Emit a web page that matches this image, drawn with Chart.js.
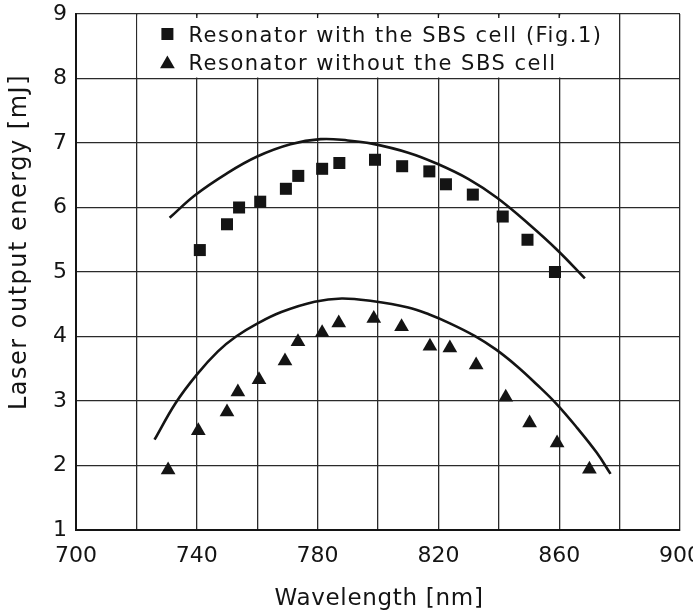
<!DOCTYPE html>
<html>
<head>
<meta charset="utf-8">
<script src="https://cdn.jsdelivr.net/npm/chart.js@4.4.1/dist/chart.umd.min.js"></script>
<style>
  html, body { margin: 0; padding: 0; background: #fff; overflow: hidden; }
</style>
</head>
<body>
<canvas id="chart" width="702" height="610"></canvas>
<script>
/* Laser output energy vs wavelength, two resonator set-ups */

// measured points, resonator with the SBS cell (squares)
const withSbsX = [741, 750, 754, 761, 769.5, 773.6, 781.5, 787.2, 799, 808, 817, 822.5, 831.4, 841.3, 849.5, 858.6];
const withSbsY = [5.34, 5.74, 6.0, 6.09, 6.29, 6.49, 6.6, 6.69, 6.74, 6.64, 6.56, 6.36, 6.2, 5.86, 5.5, 5.0];

// measured points, resonator without the SBS cell (triangles)
const noSbsX = [730.5, 740.5, 750, 753.6, 760.6, 769.2, 773.5, 781.5, 787, 798.6, 807.8, 817.2, 823.8, 832.5, 842.3, 850.2, 859.3, 870];
const noSbsY = [1.93, 2.54, 2.83, 3.14, 3.33, 3.62, 3.92, 4.06, 4.21, 4.28, 4.15, 3.85, 3.82, 3.56, 3.06, 2.66, 2.35, 1.94];

// hand-drawn guide curves
const upperCurveX = [731, 739.4, 750, 760, 771, 781, 790, 798, 810, 819, 830, 839.4, 850, 859.6, 868.5];
const upperCurveY = [5.84, 6.19, 6.53, 6.79, 6.98, 7.06, 7.04, 6.99, 6.85, 6.69, 6.44, 6.15, 5.74, 5.33, 4.9];
const lowerCurveX = [726, 733, 740, 747, 753, 760, 768, 779, 788, 798, 810, 817, 824, 832, 839, 846, 852.5, 859, 866, 872.4, 877];
const lowerCurveY = [2.4, 2.97, 3.41, 3.77, 4.0, 4.2, 4.38, 4.54, 4.59, 4.55, 4.45, 4.34, 4.2, 4.01, 3.8, 3.54, 3.26, 2.96, 2.58, 2.2, 1.87];

// axes
const xMin = 700, xMax = 900, xStep = 20, xLabelEvery = 40;
const yMin = 1, yMax = 9, yStep = 1;

const legendLabels = ['Resonator with the SBS cell (Fig.1)', 'Resonator without the SBS cell'];
const xTitle = 'Wavelength [nm]';
const yTitle = 'Laser output energy [mJ]';

const INK = '#141414';
const FONT = '"DejaVu Sans", sans-serif';

const toXY = (xs, ys) => xs.map((x, i) => ({ x, y: ys[i] }));

/* ---- Plugin: boxed legend inside the top grid row ---- */
const boxedLegend = {
  id: 'boxedLegend',
  beforeDatasetsDraw(chart) {
    const { ctx, chartArea, scales } = chart;
    const x1 = scales.x.getPixelForValue(720);
    const x2 = scales.x.getPixelForValue(880);
    const y1 = chartArea.top;
    const y2 = scales.y.getPixelForValue(8);
    ctx.save();
    ctx.fillStyle = '#fff';
    ctx.fillRect(x1 + 1, y1 + 1.5, x2 - x1 - 2, y2 - y1 - 2.5);

    // little stubs of the covered grid lines along the top edge
    ctx.strokeStyle = INK;
    ctx.lineWidth = 1.3;
    for (let v = 740; v < 880; v += xStep) {
      const px = scales.x.getPixelForValue(v);
      ctx.beginPath();
      ctx.moveTo(px, y1);
      ctx.lineTo(px, y1 + 4);
      ctx.stroke();
    }

    const mx = x1 + 31;
    ctx.fillStyle = INK;
    // square
    ctx.fillRect(mx - 6, y1 + 20 - 6, 12, 12);
    // triangle
    const r = 8.5, cy = y1 + 50;
    ctx.beginPath();
    ctx.moveTo(mx, cy - r);
    ctx.lineTo(mx + r * 0.866, cy + r / 2);
    ctx.lineTo(mx - r * 0.866, cy + r / 2);
    ctx.closePath();
    ctx.fill();

    ctx.font = `21px ${FONT}`;
    ctx.letterSpacing = '1.5px';
    ctx.textAlign = 'left';
    ctx.textBaseline = 'alphabetic';
    ctx.fillText(legendLabels[0], x1 + 52, y1 + 28);
    ctx.fillText(legendLabels[1], x1 + 52, y1 + 56);
    ctx.restore();
  },
};

/* ---- Plugin: axis titles with wide letter spacing ---- */
const axisTitles = {
  id: 'axisTitles',
  afterDraw(chart) {
    const { ctx, chartArea } = chart;
    ctx.save();
    ctx.fillStyle = INK;
    ctx.textAlign = 'center';
    ctx.textBaseline = 'alphabetic';
    ctx.font = `23px ${FONT}`;
    ctx.letterSpacing = '0.7px';
    ctx.fillText(xTitle, (chartArea.left + chartArea.right) / 2 + 1, 605);

    ctx.font = `24px ${FONT}`;
    ctx.letterSpacing = '1.5px';
    ctx.translate(26, 242);
    ctx.rotate(-Math.PI / 2);
    ctx.fillText(yTitle, 0, 0);
    ctx.restore();
  },
};

new Chart(document.getElementById('chart'), {
  type: 'scatter',
  data: {
    datasets: [
      {
        label: legendLabels[0],
        data: toXY(withSbsX, withSbsY),
        pointStyle: 'rect', pointRadius: 8.5, pointHoverRadius: 8.5,
        backgroundColor: INK, borderWidth: 0,
      },
      {
        label: legendLabels[1],
        data: toXY(noSbsX, noSbsY),
        pointStyle: 'triangle', pointRadius: 8.5, pointHoverRadius: 8.5,
        backgroundColor: INK, borderWidth: 0,
      },
      {
        label: 'fit upper',
        data: toXY(upperCurveX, upperCurveY),
        showLine: true, pointRadius: 0, tension: 0.4,
        borderColor: INK, borderWidth: 2.6, fill: false,
      },
      {
        label: 'fit lower',
        data: toXY(lowerCurveX, lowerCurveY),
        showLine: true, pointRadius: 0, tension: 0.4,
        borderColor: INK, borderWidth: 2.6, fill: false,
      },
    ],
  },
  options: {
    responsive: false,
    animation: false,
    devicePixelRatio: 1,
    layout: { padding: 0 },
    plugins: { legend: { display: false }, tooltip: { enabled: false } },
    scales: {
      x: {
        type: 'linear', min: xMin, max: xMax,
        ticks: {
          stepSize: xStep, autoSkip: false, maxRotation: 0, padding: 13,
          color: INK, font: { family: FONT, size: 22 },
          callback: (v) => ((v - xMin) % xLabelEvery === 0 ? String(v) : ''),
        },
        grid: { color: '#2a2a2a', lineWidth: 1.3, drawTicks: false },
        border: { color: INK, width: 2 },
        title: { display: false },
        afterFit: (s) => { s.height = 80; s.paddingRight = 22; },
      },
      y: {
        type: 'linear', min: yMin, max: yMax,
        ticks: {
          stepSize: yStep, padding: 9,
          color: INK, font: { family: FONT, size: 22 },
        },
        grid: { color: '#2a2a2a', lineWidth: 1.3, drawTicks: false },
        border: { color: INK, width: 2 },
        title: { display: false },
        afterFit: (s) => { s.width = 76; s.paddingTop = 14; },
      },
    },
  },
  plugins: [boxedLegend, axisTitles],
});
</script>
</body>
</html>
